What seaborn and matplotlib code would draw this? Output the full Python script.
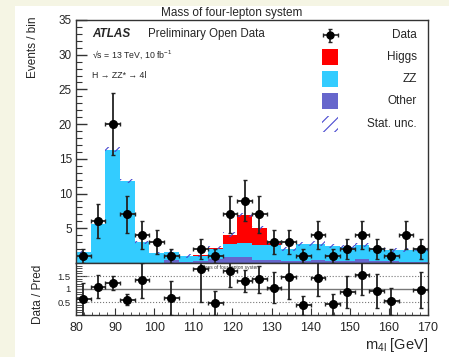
#%% Libraries
import numpy as np
import pandas as pd
import seaborn as sns
import matplotlib.pyplot as plt
from matplotlib.patches import Rectangle
from matplotlib.ticker import MultipleLocator, FuncFormatter

#%% Data (24 bins of 3.75 GeV from 80 to 170)
bin_edges = np.linspace(80, 170, 25)
bin_centres = 0.5 * (bin_edges[:-1] + bin_edges[1:])
half_width = 0.5 * (bin_edges[1] - bin_edges[0])

data_counts = [1, 6, 20, 7, 4, 3, 1, 0, 2, 1, 7, 9,
               7, 3, 3, 1, 4, 1, 2, 4, 2, 1, 4, 2]
mc_other = [0, 0, 0, 0, 0, 0, 0.45, 0.2, 0.25, 0.6, 0.9, 0.9,
            0.5, 0.4, 0.3, 0.3, 0.4, 0.3, 0.3, 0.6, 0.3, 0.3, 0.2, 0.2]
mc_zz = [1.6, 5.55, 16.3, 11.85, 3.0, 1.4, 1.1, 0.8, 0.83, 1.4, 1.9, 2.0,
         2.1, 2.2, 1.75, 2.4, 2.4, 2.15, 1.95, 2.0, 1.85, 1.6, 1.7, 1.85]
mc_higgs = [0, 0, 0, 0, 0, 0, 0, 0, 0.05, 0.2, 1.3, 4.0,
            2.5, 0.25, 0, 0, 0, 0, 0, 0, 0, 0, 0, 0]
stat_unc = [0.15, 0.25, 0.35, 0.3, 0.2, 0.15, 0.3, 0.25, 0.2, 0.25, 0.3, 0.3,
            0.3, 0.25, 0.25, 0.3, 0.3, 0.3, 0.3, 0.3, 0.3, 0.25, 0.25, 0.25]

process_names = ['Higgs', 'ZZ', 'Other']
process_colors = {'Higgs': '#ff0000', 'ZZ': '#33ccff', 'Other': '#6666cc'}
hatch_color = '#4a4ad0'

#%% Long table for seaborn
mc = pd.DataFrame({
    'mass': np.tile(bin_centres, 3),
    'events': np.concatenate([mc_higgs, mc_zz, mc_other]),
    'process': np.repeat(process_names, len(bin_centres)),
})
data = np.array(data_counts, dtype=float)
pred = np.array(mc_other) + np.array(mc_zz) + np.array(mc_higgs)
unc = np.array(stat_unc)

#%% Theming
sns.set_style("ticks")
plt.rcParams['font.family'] = ['Liberation Sans', 'DejaVu Sans']
plt.rcParams['mathtext.default'] = 'regular'
plt.rcParams['hatch.linewidth'] = 0.8
frame = '#333333'

fig = plt.figure(figsize=(4.49, 3.57), dpi=100, facecolor='#f5f5e4')
fig.patches.append(Rectangle((15 / 449, 0), 1, 351 / 357, transform=fig.transFigure,
                             facecolor='white', edgecolor='none', zorder=-5))
ax = fig.add_axes([76 / 449, 94 / 357, 352 / 449, 243 / 357])
axr = fig.add_axes([76 / 449, 42 / 357, 352 / 449, 52 / 357])

#%% Upper panel: stacked MC
sns.histplot(data=mc, x='mass', weights='events', hue='process',
             hue_order=process_names, multiple='stack', bins=list(bin_edges),
             element='step', fill=True, palette=process_colors, alpha=1,
             linewidth=0, legend=False, ax=ax)

# stat. uncertainty band
ax.fill_between(bin_edges, np.append(pred - unc, pred[-1] - unc[-1]),
                np.append(pred + unc, pred[-1] + unc[-1]), step='post',
                facecolor='none', edgecolor=hatch_color, hatch='///', linewidth=0)

has = data > 0
ax.errorbar(bin_centres[has], data[has], xerr=half_width, yerr=np.sqrt(data[has]),
            fmt='o', color='black', ecolor='#222222', ms=5.5, elinewidth=1.3,
            capsize=1.5, capthick=1)

ax.set_xlim(80, 170)
ax.set_ylim(0, 35)
ax.set_xlabel('')
ax.set_ylabel('')
ax.yaxis.set_major_locator(MultipleLocator(5))
ax.yaxis.set_minor_locator(MultipleLocator(1))
ax.xaxis.set_major_locator(MultipleLocator(10))
ax.xaxis.set_minor_locator(MultipleLocator(2))
ax.yaxis.set_major_formatter(FuncFormatter(lambda v, p: '' if v == 0 else f'{v:.0f}'))
ax.tick_params(axis='y', which='major', direction='in', length=8, width=1,
               labelsize=8.5, pad=3, color=frame)
ax.tick_params(axis='y', which='minor', direction='in', length=4, width=0.8, color=frame)
ax.tick_params(axis='x', which='major', direction='in', length=4, labelbottom=False, color=frame)
ax.tick_params(axis='x', which='minor', direction='in', length=2, color=frame)
for s in ax.spines.values():
    s.set_color(frame)
    s.set_linewidth(1)

# labels
ax.text(0.045, 0.942, 'ATLAS', transform=ax.transAxes, fontsize=8.5,
        fontweight='bold', fontstyle='italic', va='center')
ax.text(0.205, 0.942, 'Preliminary Open Data', transform=ax.transAxes,
        fontsize=8.3, va='center')
ax.text(0.045, 0.856, '√s = 13 TeV, 10 fb$^{-1}$', transform=ax.transAxes,
        fontsize=6.3, va='center')
ax.text(0.045, 0.770, 'H → ZZ* → 4l', transform=ax.transAxes,
        fontsize=6.3, va='center')

# legend drawn by hand (ROOT style: glyph left, text right aligned)
leg_x, txt_x = 0.722, 0.969
rows = [0.938, 0.847, 0.757, 0.667, 0.572]
bw, bh = 0.046, 0.066
ax.errorbar([leg_x], [rows[0]], xerr=0.021, yerr=0.027, fmt='o', color='black',
            ecolor='#222222', ms=5, elinewidth=1.2, capsize=1.2,
            transform=ax.transAxes, clip_on=False)
for r, name in zip(rows[1:4], process_names):
    ax.add_patch(Rectangle((leg_x - bw / 2, r - bh / 2), bw, bh, transform=ax.transAxes,
                           facecolor=process_colors[name], edgecolor='none'))
ax.add_patch(Rectangle((leg_x - bw / 2, rows[4] - bh / 2), bw, bh, transform=ax.transAxes,
                       facecolor='none', edgecolor=hatch_color, hatch='///', linewidth=0))
for r, lab in zip(rows, ['Data', 'Higgs', 'ZZ', 'Other', 'Stat. unc.']):
    ax.text(txt_x, r, lab, transform=ax.transAxes, ha='right', va='center', fontsize=8.5)

#%% Lower panel: ratio
ratio = np.where(has, data / pred, np.nan)
show = has & (ratio <= 2)
axr.axhline(1, color='#777777', lw=1, zorder=1)
axr.axhline(0.5, color='#777777', lw=0.8, ls=':', zorder=1)
axr.axhline(1.5, color='#777777', lw=0.8, ls=':', zorder=1)
axr.errorbar(bin_centres[show], ratio[show], xerr=half_width,
             yerr=np.sqrt(data[show]) / pred[show], fmt='o', color='black',
             ecolor='#222222', ms=5.5, elinewidth=1.3, capsize=1.5, capthick=1, zorder=3)
axr.set_xlim(80, 170)
axr.set_ylim(0, 2)
axr.set_yticks([0.5, 1, 1.5])
axr.set_yticklabels(['0.5', '1', '1.5'])
axr.yaxis.set_minor_locator(MultipleLocator(0.1))
axr.xaxis.set_major_locator(MultipleLocator(10))
axr.xaxis.set_minor_locator(MultipleLocator(2))
axr.tick_params(axis='y', which='major', direction='in', length=8, labelsize=6.8,
                pad=4, color=frame)
axr.tick_params(axis='y', which='minor', direction='in', length=4, color=frame)
axr.tick_params(axis='x', which='major', direction='in', length=5, labelsize=9,
                pad=5, color=frame)
axr.tick_params(axis='x', which='minor', direction='in', length=2.5, color=frame)
for s in axr.spines.values():
    s.set_color(frame)
    s.set_linewidth(1)
axr.text(0.44, 0.92, 'Mass of four-lepton system', transform=axr.transAxes,
         fontsize=3.5, ha='center', va='center', color='#333333')

#%% Figure texts
fig.text(232 / 449, 1 - 13 / 357, 'Mass of four-lepton system', ha='center',
         va='center', fontsize=8.5)
fig.text(33 / 449, 1 - 17 / 357, 'Events / bin', rotation=90, ha='center',
         va='top', fontsize=8.5)
fig.text(38 / 449, 1 - 294 / 357, 'Data / Pred', rotation=90, ha='center',
         va='center', fontsize=8.5)
fig.text(428 / 449, 1 - 345 / 357, 'm$_{4l}$ [GeV]', ha='right', va='center',
         fontsize=10.5)

plt.savefig('out.png', dpi=100, facecolor=fig.get_facecolor())
